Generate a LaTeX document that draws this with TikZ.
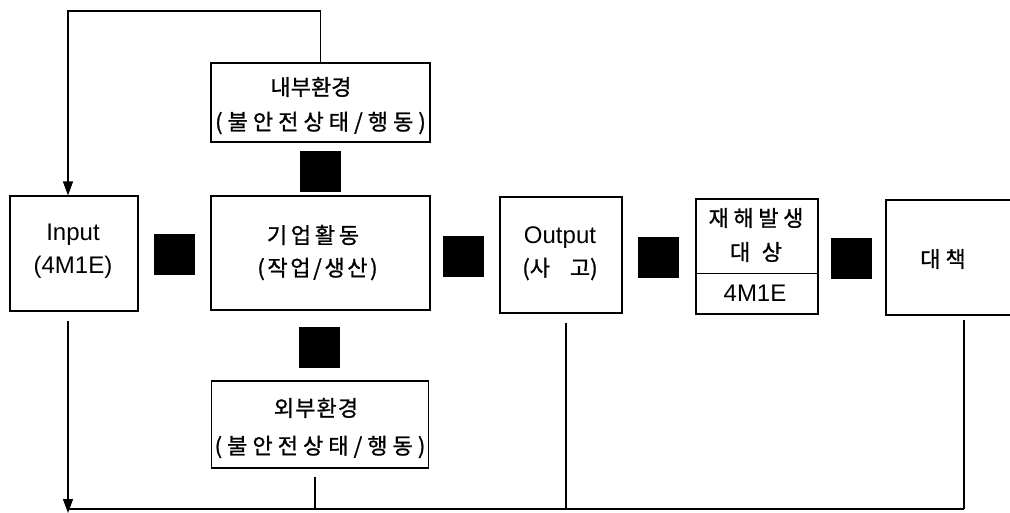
\documentclass[tikz,border=0pt]{standalone}
\usepackage{fontspec}
\setmainfont{Liberation Sans}
\newfontfamily\kr{Noto Sans CJK KR}[FakeBold=1]
\usetikzlibrary{arrows.meta}
\newcommand{\trk}[2]{{\addfontfeature{LetterSpace=#1}#2}}
\begin{document}
\begin{tikzpicture}[x=1pt,y=-1pt,
  box/.style={draw,line width=1.1pt,inner sep=0pt},
  blk/.style={fill=black,inner sep=0pt,minimum width=41pt,minimum height=41pt},
  lat/.style={font=\fontsize{24}{24}\selectfont,inner sep=0pt},
  kor/.style={font=\kr\fontsize{22}{22}\selectfont,inner sep=0pt},
  link/.style={line width=1.4pt},
  tip/.style={-{Triangle[length=14pt,width=10pt]}}]
\useasboundingbox (0,0) rectangle (1010,513);
\clip (0,0) rectangle (1010,513);
% boxes
\node[box,minimum width=128pt,minimum height=115pt] (input) at (74,253.5) {};
\node[box,minimum width=219pt,minimum height=114pt] (gieop) at (320.5,253) {};
\node[box,minimum width=219pt,minimum height=79pt] (naebu) at (320.5,102.5) {};
\node[box,minimum width=217pt,minimum height=87pt] (oebu) at (320,424.5) {};
\node[box,minimum width=122pt,minimum height=116pt] (output) at (561,255) {};
\node[box,minimum width=122pt,minimum height=115pt] (jae) at (757,256.5) {};
\node[box,minimum width=130pt,minimum height=115pt] (dae) at (951,257.5) {};
\draw[line width=1.1pt] ([yshift=41pt]jae.south west) -- ([yshift=41pt]jae.south east);
% black squares
\node[blk] (sq1) at (174.5,255) {};
\node[blk] (sq2) at (463.5,256.5) {};
\node[blk] (sq3) at (658,257.5) {};
\node[blk] (sq4) at (851,259) {};
\node[blk] (sqt) at (320,171.5) {};
\node[blk] (sqb) at (319,347.5) {};
% texts
\node[lat] (tin1) at (73,235) {Input};
\node[lat] (tin2) at (73,267) {(4M1E)};
\node[kor] (tg1) at (313,235) {\trk{17}{기업활동}};
\node[kor] (tg2) at (317.5,269) {\trk{12}{(작업/생산)}};
\node[kor] (tn1) at (311,87) {내부환경};
\node[kor] (tn2) at (320.5,123) {\trk{23}{(불안전상태/행동)}};
\node[kor] (to1) at (316,408) {\trk{5}{외부환경}};
\node[kor] (to2) at (320,447) {\trk{23}{(불안전상태/행동)}};
\node[lat] (tout1) at (560,238) {Output};
\node[kor] (tout2) at (560,269) {(사\hspace{20pt}고)};
\node[kor] (tj1) at (756,218) {\trk{21}{재해발생}};
\node[kor] (tj2) at (756,252) {\trk{52}{대상}};
\node[lat] (tj3) at (755,293) {4M1E};
\node[kor] (td) at (943,259) {대\hspace{5pt}책};
% connectors
\coordinate (ix) at (68,0);
\coordinate (tl) at (68,11);
\coordinate (bl) at (68,513);
\coordinate (bh) at (68,509);
\coordinate (br) at (964,509);
\coordinate (ox) at (315,0);
\coordinate (px) at (566,0);
\coordinate (dx) at (964,0);
\draw[link,tip] (naebu.north) |- (tl) -- (input.north -| ix);
\draw[link,tip,shorten <=9pt] (input.south -| ix) -- (bl);
\draw[link] (bh) -- (br);
\draw[link,shorten <=8pt] (oebu.south -| ox) -- (bh -| ox);
\draw[link,shorten <=9pt] (output.south -| px) -- (bh -| px);
\draw[link,shorten <=4pt] (dae.south -| dx) -- (br);
\end{tikzpicture}
\end{document}
